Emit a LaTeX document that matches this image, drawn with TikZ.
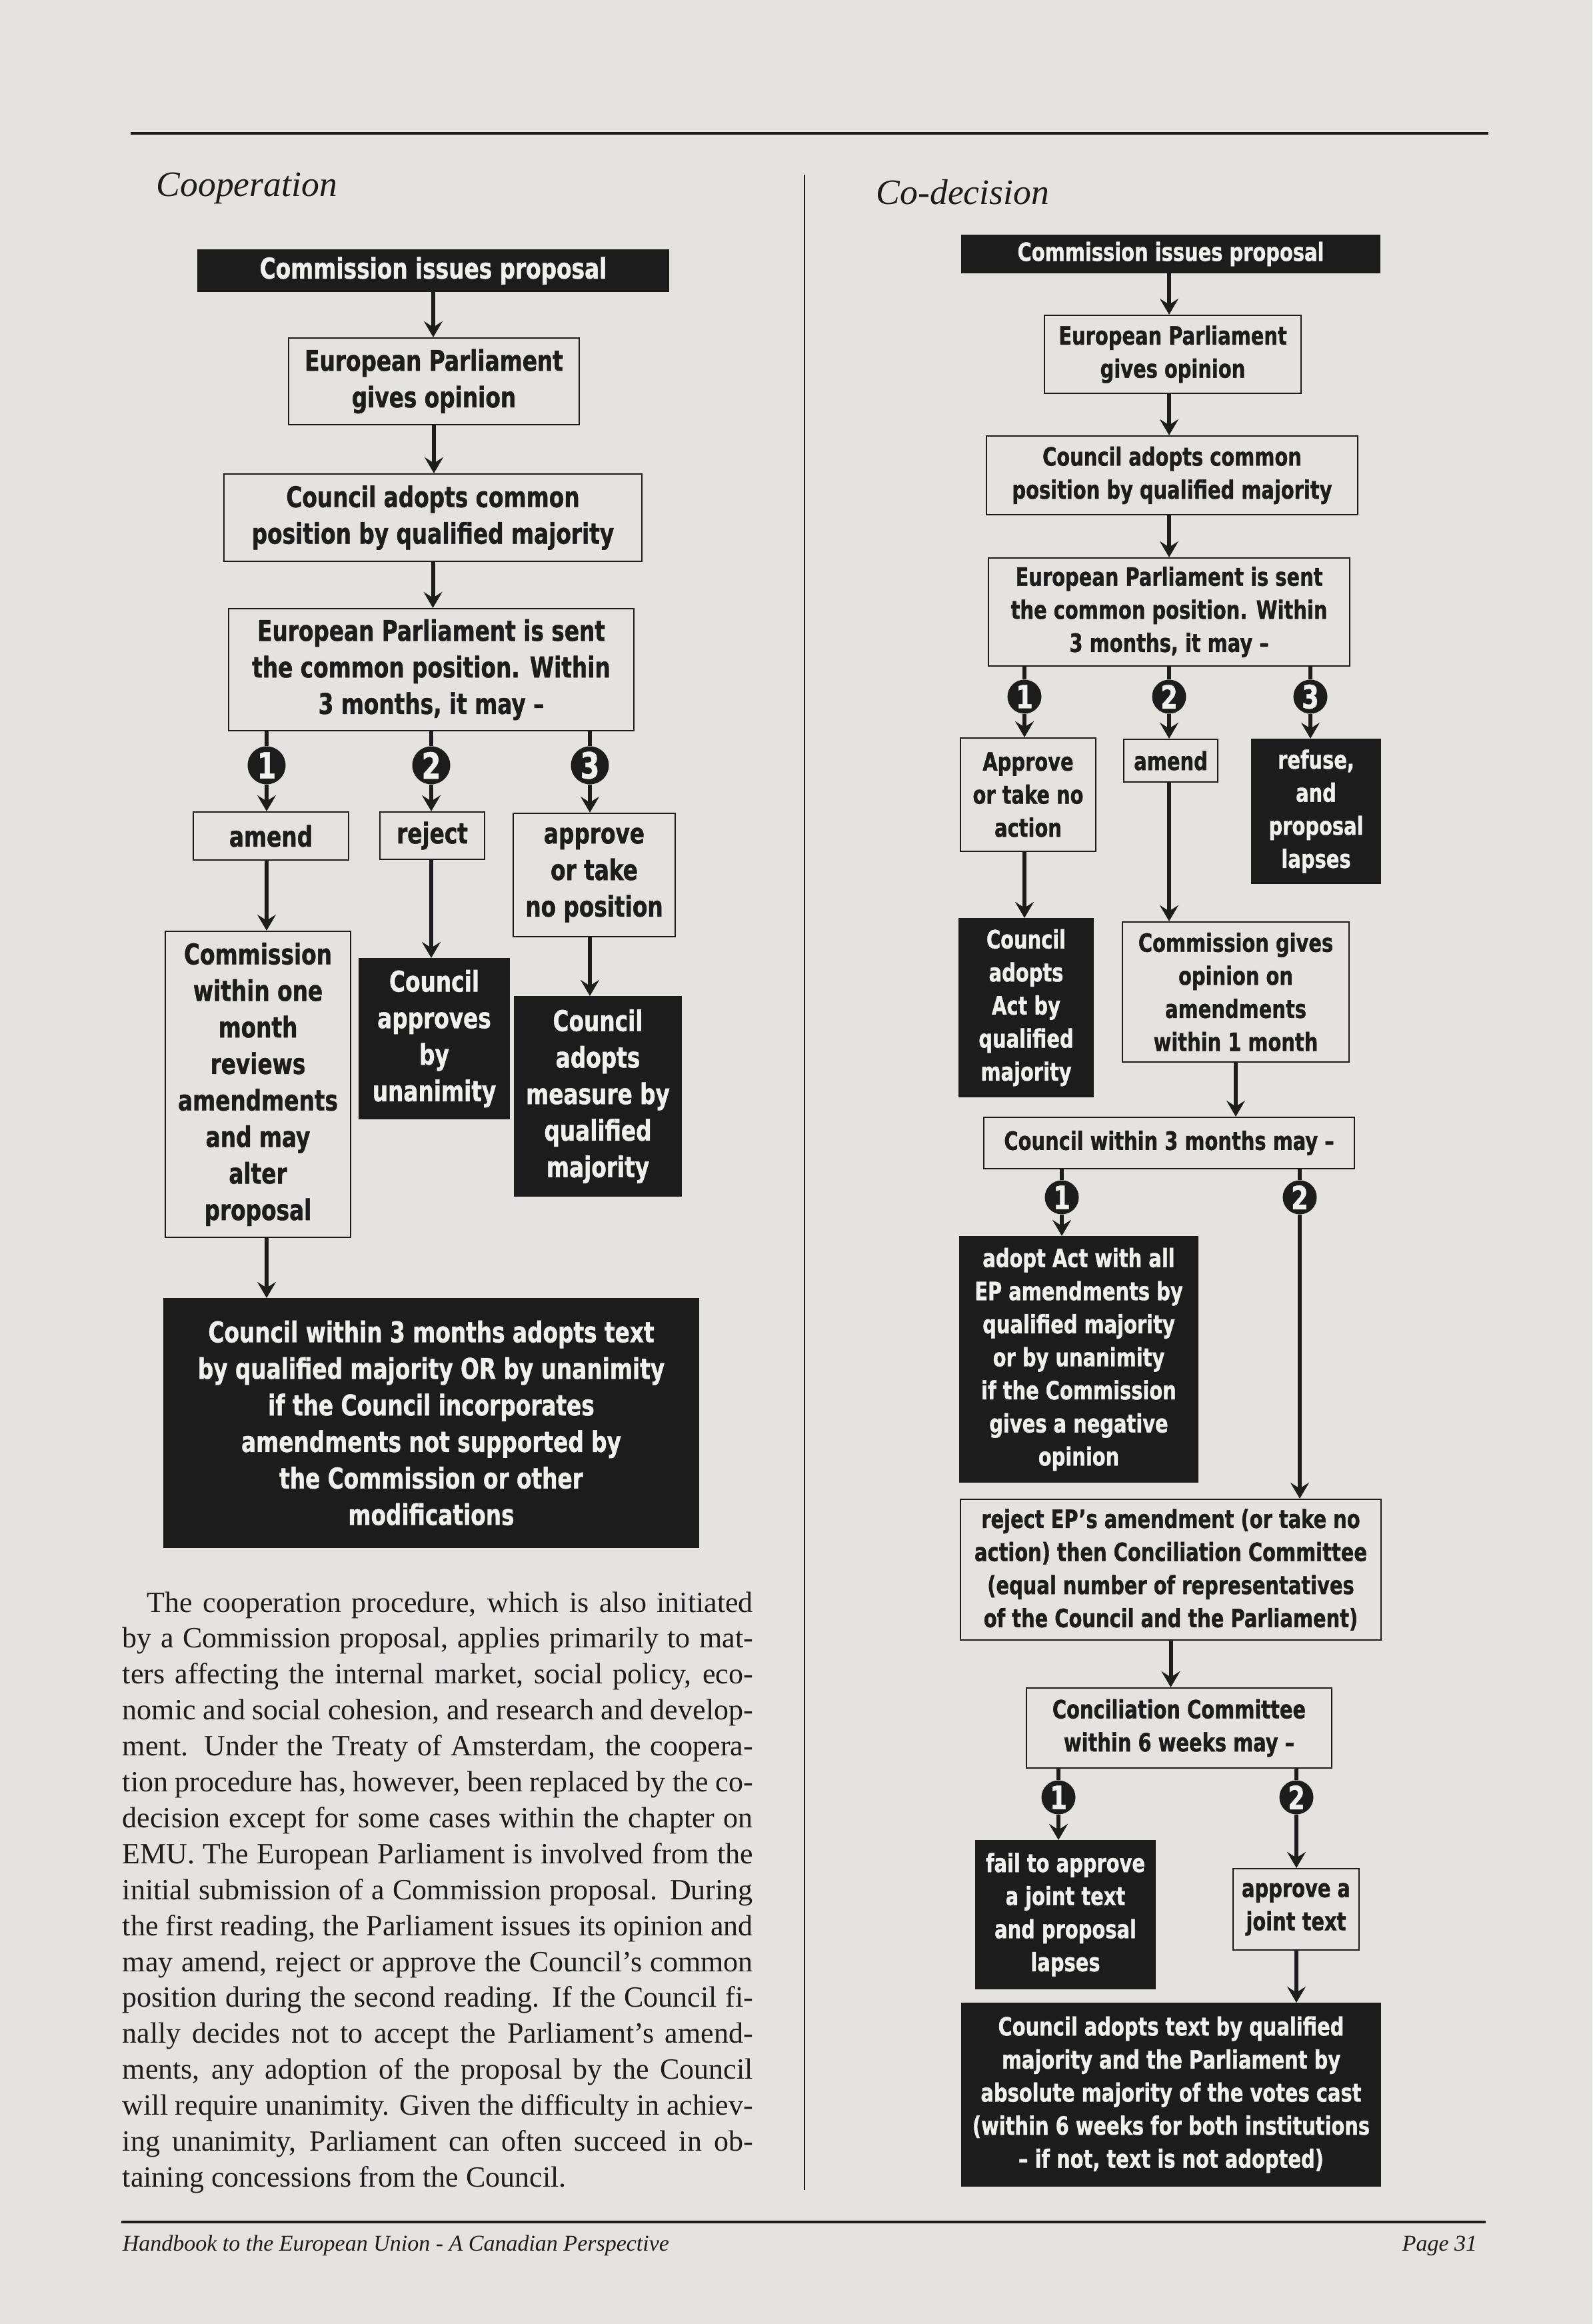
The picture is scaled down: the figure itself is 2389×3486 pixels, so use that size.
\documentclass[tikz,border=0pt]{standalone}
\usepackage{fontspec}
\setmainfont{Liberation Serif}
\newfontfamily\bxf{DejaVu Sans Condensed}[FakeStretch=0.85,FakeBold=1]
\newfontfamily\itf{Liberation Serif}
\usetikzlibrary{arrows.meta}
\definecolor{bgc}{RGB}{229,227,224}
\definecolor{ink}{RGB}{28,28,28}
\definecolor{paper}{RGB}{240,240,238}
\tikzset{
  every node/.style={inner sep=0pt},
  fl/.style={font=\bxf\bfseries\fontsize{10.7}{13.7}\selectfont},
  fr/.style={font=\bxf\bfseries\fontsize{9.45}{12.4}\selectfont},
  wbox/.style={draw=ink, line width=0.55pt, text=ink, align=center},
  bbox/.style={fill=ink, draw=ink, line width=0.55pt, text=paper, align=center},
  numl/.style={circle, fill=ink, minimum size=14.25pt, text=paper, font=\bxf\bfseries\fontsize{13.5}{13.5}\selectfont},
  numr/.style={circle, fill=ink, minimum size=12.75pt, text=paper, font=\bxf\bfseries\fontsize{12}{12}\selectfont},
  con/.style={draw=ink, line width=1.5pt},
  arr/.style={con, -{Stealth[length=6pt,width=7pt,inset=2.2pt]}},
  sz/.style 2 args={minimum width=#1pt, minimum height=#2pt},
  ttl/.style={text=ink, font=\itf\itshape\fontsize{13.4}{16}\selectfont},
  ftr/.style={text=ink, font=\itf\itshape\fontsize{8.5}{10}\selectfont},
  body/.style={text=ink, font=\fontsize{11}{13.48}\selectfont},
  rule/.style={draw=ink},
}
\begin{document}
\begin{tikzpicture}[x=0.25pt,y=-0.25pt]
\fill[bgc] (0,0) rectangle (2389,3486);
\useasboundingbox (0,0) rectangle (2389,3486);
% rules
\draw[rule, line width=1.1pt] (196,200) -- (2233,200);
\draw[rule, line width=0.6pt] (1207,262) -- (1207,3285);
\draw[rule, line width=0.9pt] (182,3333) -- (2229,3333);
% titles
\node[ttl, anchor=base west] (tC) at (234,295) {Cooperation};
\node[ttl, anchor=base west] (tD) at (1314,307) {Co-decision};
\node[ftr, anchor=base west] (ft) at (183,3376) {Handbook to the European Union - A Canadian Perspective};
\node[ftr, anchor=base east] (pg) at (2217,3376) {Page 31};

% ---------------- LEFT: Cooperation ----------------
\node[bbox, fl, sz={176.5}{15.5}] (cipL) at (650,406) {Commission issues proposal};
\node[wbox, fl, sz={109}{32.5}] (epL) at (651,572) {European Parliament\\gives opinion};
\node[wbox, fl, sz={156.75}{32.75}] (cacL) at (649.5,776.5) {Council adopts common\\position by qualified majority};
\node[wbox, fl, sz={152}{45.75}] (epsL) at (647,1004.5) {European Parliament is sent\\the common position. Within\\3 months, it may –};
\node[numl] (c1L) at (400,1148) {1};
\node[numl] (c2L) at (647,1148) {2};
\node[numl] (c3L) at (885,1148) {3};
\node[wbox, fl, sz={58.25}{18}] (amendL) at (406.5,1254) {amend};
\node[wbox, fl, sz={39.25}{17.75}] (rejectL) at (648.5,1253.5) {reject};
\node[wbox, fl, sz={60.75}{46.25}] (apprL) at (891.5,1312.5) {approve\\or take\\no position};
\node[wbox, fl, sz={69.5}{114.75}] (cwL) at (387,1626.5) {Commission\\within one\\month\\reviews\\amendments\\and may\\alter\\proposal};
\node[bbox, fl, sz={56.25}{60}] (cauL) at (651.5,1558) {Council\\approves\\by\\unanimity};
\node[bbox, fl, sz={62.5}{74.75}] (camL) at (897,1644.5) {Council\\adopts\\measure by\\qualified\\majority};
\node[bbox, fl, sz={200.5}{93.25}] (bigL) at (647,2134.5) {Council within 3 months adopts text\\by qualified majority OR by unanimity\\if the Council incorporates\\amendments not supported by\\the Commission or other\\modifications};

\draw[arr] (cipL.south) -- (epL.north -| cipL.south);
\draw[arr] (epL.south) -- (cacL.north -| epL.south);
\draw[arr] (cacL.south) -- (epsL.north -| cacL.south);
\draw[con] (epsL.south -| c1L) -- (c1L.north);
\draw[con] (epsL.south -| c2L) -- (c2L.north);
\draw[con] (epsL.south -| c3L) -- (c3L.north);
\draw[arr] (c1L.south) -- (amendL.north -| c1L);
\draw[arr] (c2L.south) -- (rejectL.north -| c2L);
\draw[arr] (c3L.south) -- (apprL.north -| c3L);
\draw[arr] (amendL.south -| c1L) -- (cwL.north -| c1L);
\draw[arr] (rejectL.south -| c2L) -- (cauL.north -| c2L);
\draw[arr] (apprL.south -| c3L) -- (camL.north -| c3L);
\draw[arr] (cwL.south -| c1L) -- (bigL.north -| c1L);

% body text
\foreach \t [count=\i] in {
{\kern9.25pt The cooperation procedure, which is also initiated},
{by a Commission proposal, applies primarily to mat-},
{ters affecting the internal market, social policy, eco-},
{nomic and social cohesion, and research and develop-},
{ment. Under the Treaty of Amsterdam, the coopera-},
{tion procedure has, however, been replaced by the co-},
{decision except for some cases within the chapter on},
{EMU. The European Parliament is involved from the},
{initial submission of a Commission proposal. During},
{the first reading, the Parliament issues its opinion and},
{may amend, reject or approve the Council’s common},
{position during the second reading. If the Council fi-},
{nally decides not to accept the Parliament’s amend-},
{ments, any adoption of the proposal by the Council},
{will require unanimity. Given the difficulty in achiev-},
{ing unanimity, Parliament can often succeed in ob-},
{taining concessions from the Council.\hfil}}
  \node[body, anchor=base west] (b\i) at (183,{2418+(\i-1)*53.9}) {\hbox to 236.5pt{\t}};

% ---------------- RIGHT: Co-decision ----------------
\node[bbox, fr, sz={156.75}{14}] (cipR) at (1756.5,381) {Commission issues proposal};
\node[wbox, fr, sz={96.25}{29.25}] (epR) at (1759.5,531.5) {European Parliament\\gives opinion};
\node[wbox, fr, sz={139.25}{29.5}] (cacR) at (1758.5,713) {Council adopts common\\position by qualified majority};
\node[wbox, fr, sz={135.5}{40.5}] (epsR) at (1754,918) {European Parliament is sent\\the common position. Within\\3 months, it may –};
\node[numr] (c1R) at (1537,1045) {1};
\node[numr] (c2R) at (1754,1045) {2};
\node[numr] (c3R) at (1966,1045) {3};
\node[wbox, fr, sz={50.75}{42.5}] (apR) at (1542.5,1192) {Approve\\or take no\\action};
\node[wbox, fr, sz={35.25}{16}] (amR) at (1756.5,1141) {amend};
\node[bbox, fr, sz={48.25}{54}] (refR) at (1974.5,1217) {refuse,\\and\\proposal\\lapses};
\node[bbox, fr, sz={50.25}{66.75}] (caaR) at (1539.5,1511.5) {Council\\adopts\\Act by\\qualified\\majority};
\node[wbox, fr, sz={85}{52.5}] (cgoR) at (1854,1488) {Commission gives\\opinion on\\amendments\\within 1 month};
\node[wbox, fr, sz={139}{19.25}] (cw3R) at (1754,1714.5) {Council within 3 months may –};
\node[numr] (d1R) at (1593,1796) {1};
\node[numr] (d2R) at (1950,1796) {2};
\node[bbox, fr, sz={89.25}{92}] (adoptR) at (1618.5,2039) {adopt Act with all\\EP amendments by\\qualified majority\\or by unanimity\\if the Commission\\gives a negative\\opinion};
\node[wbox, fr, sz={157.75}{52.75}] (rejR) at (1756.5,2354.5) {reject EP’s amendment (or take no\\action) then Conciliation Committee\\(equal number of representatives\\of the Council and the Parliament)};
\node[wbox, fr, sz={114.5}{30}] (ccR) at (1769,2592) {Conciliation Committee\\within 6 weeks may –};
\node[numr] (e1R) at (1588,2696) {1};
\node[numr] (e2R) at (1945,2696) {2};
\node[bbox, fr, sz={67.25}{55.5}] (failR) at (1598.5,2872) {fail to approve\\a joint text\\and proposal\\lapses};
\node[wbox, fr, sz={47.25}{30.5}] (ajtR) at (1944.5,2864) {approve a\\joint text};
\node[bbox, fr, sz={157}{68.5}] (catR) at (1757,3142) {Council adopts text by qualified\\majority and the Parliament by\\absolute majority of the votes cast\\(within 6 weeks for both institutions\\– if not, text is not adopted)};

\draw[arr] (cipR.south -| c2R) -- (epR.north -| c2R);
\draw[arr] (epR.south -| c2R) -- (cacR.north -| c2R);
\draw[arr] (cacR.south -| c2R) -- (epsR.north -| c2R);
\draw[con] (epsR.south -| c1R) -- (c1R.north);
\draw[con] (epsR.south -| c2R) -- (c2R.north);
\draw[con] (epsR.south -| c3R) -- (c3R.north);
\draw[arr] (c1R.south) -- (apR.north -| c1R);
\draw[arr] (c2R.south) -- (amR.north -| c2R);
\draw[arr] (c3R.south) -- (refR.north -| c3R);
\draw[arr] (apR.south -| c1R) -- (caaR.north -| c1R);
\draw[arr] (amR.south -| c2R) -- (cgoR.north -| c2R);
\draw[arr] (cgoR.south) -- (cw3R.north -| cgoR.south);
\draw[con] (cw3R.south -| d1R) -- (d1R.north);
\draw[con] (cw3R.south -| d2R) -- (d2R.north);
\draw[arr] (d1R.south) -- (adoptR.north -| d1R);
\draw[arr] (d2R.south) -- (rejR.north -| d2R);
\draw[arr] (rejR.south) -- (ccR.north -| rejR.south);
\draw[con] (ccR.south -| e1R) -- (e1R.north);
\draw[con] (ccR.south -| e2R) -- (e2R.north);
\draw[arr] (e1R.south) -- (failR.north -| e1R);
\draw[arr] (e2R.south) -- (ajtR.north -| e2R);
\draw[arr] (ajtR.south -| e2R) -- (catR.north -| e2R);
\end{tikzpicture}
\end{document}
